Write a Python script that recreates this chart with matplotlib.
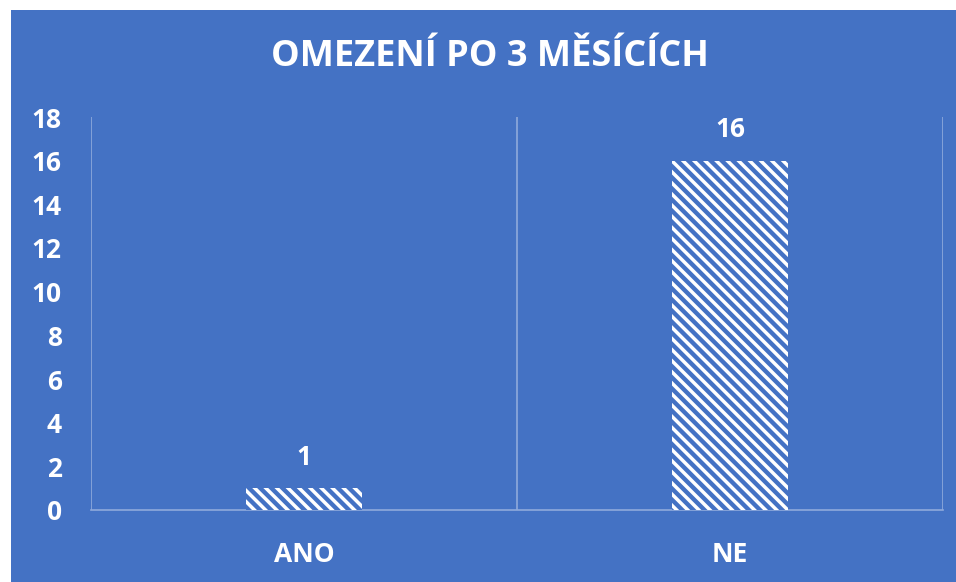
import numpy as np
import matplotlib.pyplot as plt
from matplotlib.patches import Rectangle

categories = ['ANO', 'NE']
values = [1, 16]
title = 'OMEZENÍ PO 3 MĚSÍCÍCH'

bg = '#4472C4'
grid_col = '#8FAADC'
plt.rcParams['font.family'] = ['Open Sans', 'DejaVu Sans']
plt.rcParams['hatch.linewidth'] = 2.5

fig = plt.figure(figsize=(9.56, 5.82), dpi=100)
fig.patch.set_facecolor(bg)
# white margin on top and left
fig.patches.append(Rectangle((0, 0), 11 / 956, 1, transform=fig.transFigure,
                             facecolor='white', edgecolor='none'))
fig.patches.append(Rectangle((0, 1 - 10 / 582), 1, 10 / 582, transform=fig.transFigure,
                             facecolor='white', edgecolor='none'))

ax = fig.add_axes([91 / 956, 1 - 510 / 582, (943 - 91) / 956, (510 - 117) / 582])
ax.set_facecolor('none')

x = np.arange(len(categories))
bars = ax.bar(x, values, width=0.27, color=bg, edgecolor='white', linewidth=0,
              hatch='\\\\\\', zorder=3)

ax.set_xlim(-0.5, len(categories) - 0.5)
ax.set_ylim(0, 18)
ax.set_yticks(range(0, 19, 2))
ax.set_xticks(x)
ax.set_xticklabels(categories)

# category separators
for b in np.arange(-0.5, len(categories), 1):
    ax.axvline(b, color=grid_col, lw=1.2, zorder=1)

for s in ['top', 'right', 'left']:
    ax.spines[s].set_visible(False)
ax.spines['bottom'].set_color(grid_col)
ax.spines['bottom'].set_linewidth(1.2)

ax.tick_params(axis='both', length=0, colors='white')
for lab in ax.get_yticklabels() + ax.get_xticklabels():
    lab.set_fontsize(19)
    lab.set_fontweight('bold')
ax.tick_params(axis='y', pad=21)
ax.tick_params(axis='x', pad=22)

for xi, v in zip(x, values):
    ax.text(xi, v + 0.8, str(v), ha='center', va='bottom', color='white',
            fontsize=19, fontweight='bold')

fig.text(490 / 956, 1 - 57 / 582, title, ha='center', va='center', color='white',
         fontsize=26, fontweight='bold')

fig.savefig('out.png', dpi=100, facecolor=fig.get_facecolor())
